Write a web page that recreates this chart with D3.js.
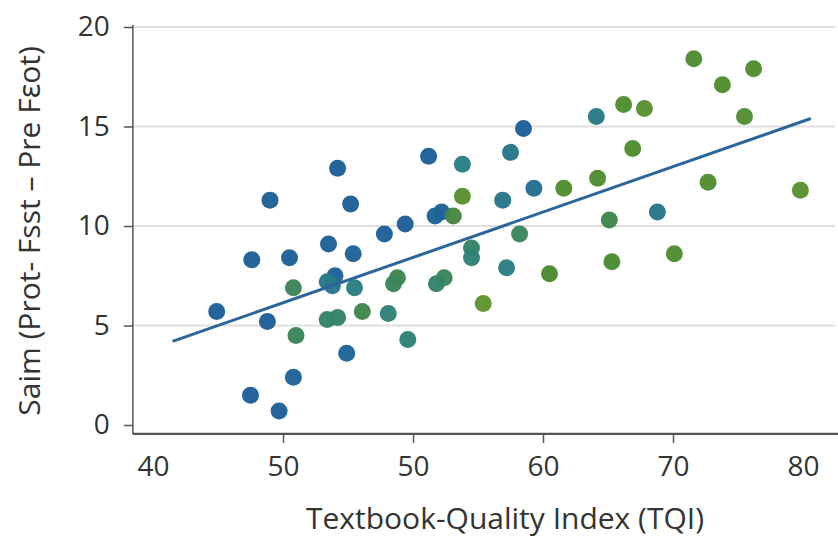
<!DOCTYPE html>
<html>
<head>
<meta charset="utf-8">
<script src="https://cdn.jsdelivr.net/npm/d3@7"></script>
<style>
  html, body { margin: 0; padding: 0; background: #fff; }
  svg { display: block; }
  text { font-family: "Open Sans", "Noto Sans", sans-serif; fill: #333; }
</style>
</head>
<body>
<svg id="chart" width="838" height="538"></svg>
<script>
// TQI position (tick slots 40..90 carry the printed labels below)
var tqi = [44.9, 47.6, 50.5, 49.0, 48.8, 47.5, 49.7, 50.8, 50.8, 51.0,
  54.2, 55.2, 53.5, 55.4, 54.0, 53.4, 53.8, 55.5, 54.9, 53.4,
  54.2, 56.1, 58.1, 59.6, 57.8, 59.4, 58.8, 58.5, 61.2, 62.2,
  61.7, 63.1, 63.8, 63.8, 62.4, 61.8, 64.5, 64.5, 65.4, 68.5,
  67.5, 74.1, 76.2, 77.8, 81.6, 83.8, 86.2, 85.5, 76.9, 66.9,
  69.3, 71.6, 74.2, 82.7, 89.8, 78.8, 75.1, 68.2, 67.2, 70.5,
  75.3, 80.1];
var gain = [5.7, 8.3, 8.4, 11.3, 5.2, 1.5, 0.7, 2.4, 6.9, 4.5,
  12.9, 11.1, 9.1, 8.6, 7.5, 7.2, 7.0, 6.9, 3.6, 5.3,
  5.4, 5.7, 5.6, 4.3, 9.6, 10.1, 7.4, 7.1, 13.5, 10.7,
  10.5, 10.5, 11.5, 13.1, 7.4, 7.1, 8.9, 8.4, 6.1, 14.9,
  13.7, 15.5, 16.1, 15.9, 18.4, 17.1, 17.9, 15.5, 13.9, 11.3,
  11.9, 11.9, 12.4, 12.2, 11.8, 10.7, 10.3, 9.6, 7.9, 7.6,
  8.2, 8.6];
// colour tone 0 = blue .. 1 = yellow-green
var tone = [0.05, 0.05, 0.05, 0.05, 0.05, 0.05, 0.05, 0.08, 0.6, 0.6,
  0.05, 0.05, 0.08, 0.1, 0.08, 0.4, 0.35, 0.45, 0.1, 0.55,
  0.55, 0.65, 0.5, 0.5, 0.05, 0.05, 0.65, 0.6, 0.05, 0.1,
  0.1, 0.7, 0.85, 0.45, 0.6, 0.55, 0.55, 0.5, 0.9, 0.05,
  0.35, 0.4, 0.8, 0.85, 0.8, 0.8, 0.8, 0.8, 0.8, 0.35,
  0.25, 0.8, 0.8, 0.8, 0.85, 0.35, 0.65, 0.6, 0.45, 0.75,
  0.75, 0.8];

var fitX = [41.5, 90.6];
var fitY = [4.2, 15.4];

var xTicks = [40, 50, 60, 70, 80, 90];
var xTickLabels = ['40', '50', '50', '60', '70', '80'];
var yTicks = [0, 5, 10, 15, 20];

var svg = d3.select('#chart');

var x = d3.scaleLinear().domain([40, 90]).range([153, 803]);
var y = d3.scaleLinear().domain([0, 20]).range([425, 27]);
var xMin = 38.45, xMax = 92.7, yMin = -0.45;

var color = d3.scaleLinear()
  .domain([0, 0.45, 0.75, 1])
  .range(['#1c5c9c', '#2a7f84', '#4b8a32', '#6c9b2c']);

// grid
svg.append('g')
  .selectAll('line')
  .data(yTicks.filter(d => d > 0))
  .enter().append('line')
    .attr('x1', x(xMin)).attr('x2', x(xMax) - 3)
    .attr('y1', d => y(d)).attr('y2', d => y(d))
    .attr('stroke', '#dfdfdf')
    .attr('stroke-width', 2);

// y axis
var yAxis = svg.append('g')
  .attr('transform', 'translate(' + x(xMin) + ',0)')
  .call(d3.axisLeft(y).tickValues(yTicks).tickSize(9).tickPadding(14));
yAxis.select('.domain').remove();
yAxis.selectAll('.tick line').attr('stroke', '#555').attr('stroke-width', 1.5);
yAxis.selectAll('.tick text').style('font-size', '28px').attr('fill', '#333');
yAxis.append('line')
  .attr('y1', y(20) - 2).attr('y2', y(yMin))
  .attr('stroke', '#555').attr('stroke-width', 1.5);

// x axis
var xAxis = svg.append('g')
  .attr('transform', 'translate(0,' + y(yMin) + ')')
  .call(d3.axisBottom(x).tickValues(xTicks).tickSize(9).tickPadding(13)
    .tickFormat((d, i) => xTickLabels[i]));
xAxis.select('.domain').remove();
xAxis.selectAll('.tick line')
  .attr('stroke', '#555').attr('stroke-width', 1.5)
  .attr('opacity', (d, i) => (i === 0 || i === xTicks.length - 1) ? 0 : 1);
xAxis.selectAll('.tick text').style('font-size', '28px').attr('fill', '#333');
xAxis.append('line')
  .attr('x1', x(xMin)).attr('x2', x(xMax) + 20)
  .attr('stroke', '#555').attr('stroke-width', 2.2);

// points
var pts = tqi.map((d, i) => ({ x: d, y: gain[i], t: tone[i] }));
svg.append('g')
  .selectAll('circle')
  .data(pts)
  .enter().append('circle')
    .attr('cx', d => x(d.x))
    .attr('cy', d => y(d.y))
    .attr('r', 8.5)
    .attr('fill', d => color(d.t))
    .attr('fill-opacity', 0.97);

// trend line
svg.append('path')
  .datum(fitX.map((d, i) => [d, fitY[i]]))
  .attr('d', d3.line().x(d => x(d[0])).y(d => y(d[1])))
  .attr('fill', 'none')
  .attr('stroke', '#2b659a')
  .attr('stroke-width', 3);

// titles
svg.append('text')
  .attr('x', 505).attr('y', 529)
  .attr('text-anchor', 'middle')
  .style('font-size', '30px')
  .text('Textbook-Quality Index (TQI)');

svg.append('text')
  .attr('transform', 'translate(40,231) rotate(-90)')
  .attr('text-anchor', 'middle')
  .style('font-size', '30px')
  .text('Saim (Prot- Fsst – Pre Fɛot)');
</script>
</body>
</html>
